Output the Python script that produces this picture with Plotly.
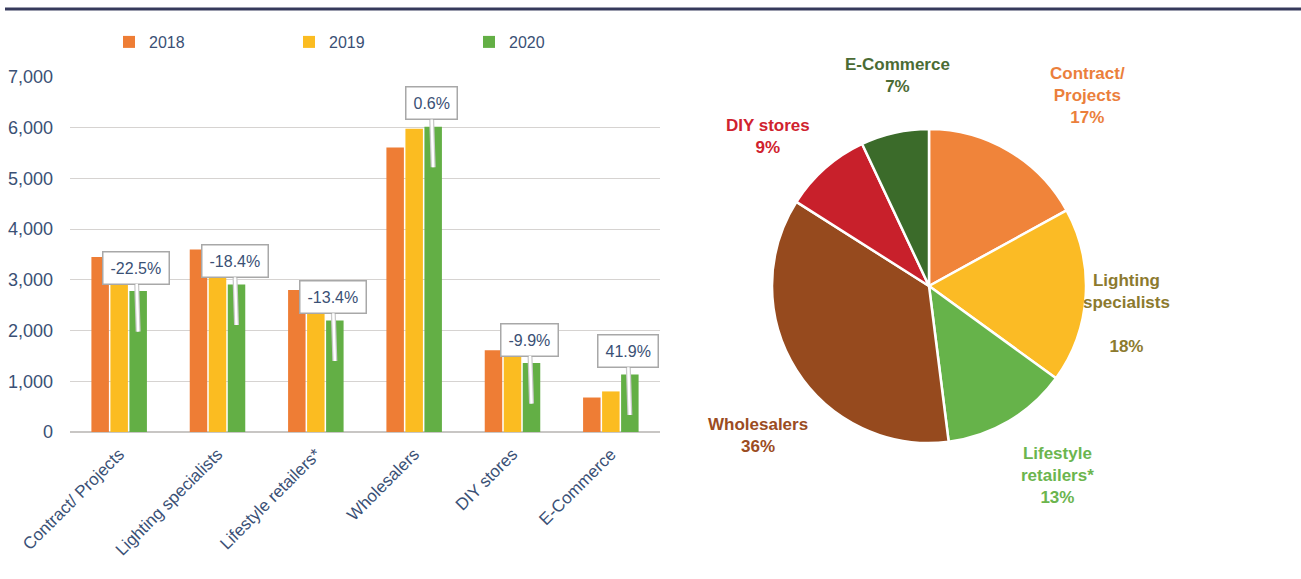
import plotly.graph_objects as go

# ---------------- data ----------------
categories = ["Contract/ Projects", "Lighting specialists", "Lifestyle retailers*",
              "Wholesalers", "DIY stores", "E-Commerce"]
years = ["2018", "2019", "2020"]
values_2018 = [3450, 3600, 2800, 5610, 1610, 680]
values_2019 = [3530, 3570, 2540, 5980, 1510, 800]
values_2020 = [2780, 2910, 2200, 6020, 1360, 1135]
growth_labels = ["-22.5%", "-18.4%", "-13.4%", "0.6%", "-9.9%", "41.9%"]

pie_labels = ["Contract/<br>Projects", "Lighting<br>specialists<br>", "Lifestyle<br>retailers*",
              "Wholesalers", "DIY stores", "E-Commerce"]
pie_values = [17, 18, 13, 36, 9, 7]

y_ticks = [0, 1000, 2000, 3000, 4000, 5000, 6000, 7000]

# ---------------- style ----------------
W, H = 1301, 579
bar_colors = ["#EE7D35", "#FBBC21", "#63AF45"]
pie_colors = ["#F0843A", "#FBBB25", "#66B34A", "#964A1E", "#C8202B", "#3B6B2A"]
pie_text_colors = ["#EB7F3C", "#8C7A2E", "#6BB54E", "#9B4C22", "#D0222E", "#4B6B34"]
# label centre positions (pixels) for pie labels
pie_label_pos = [(1087, 95), (1126, 313), (1057, 475), (758, 435), (768, 136), (897, 76)]
text_col = "#3A5075"
font_family = "Liberation Sans, Arial, sans-serif"

fig = go.Figure()

x_idx = list(range(len(categories)))
for yr, vals, col in zip(years, [values_2018, values_2019, values_2020], bar_colors):
    fig.add_trace(go.Bar(x=x_idx, y=vals, name=yr, marker=dict(color=col, line=dict(width=0)),
                         xaxis="x", yaxis="y"))

fig.add_trace(go.Pie(values=pie_values, labels=[l.replace("<br>", " ") for l in pie_labels],
                     marker=dict(colors=pie_colors, line=dict(color="white", width=2.5)),
                     sort=False, direction="clockwise", rotation=0,
                     textinfo="none", hoverinfo="label+percent", showlegend=False,
                     domain=dict(x=[(929 - 157) / W, (929 + 157) / W],
                                 y=[1 - (286 + 157) / H, 1 - (286 - 157) / H])))

bargap = 0.42
n_series = len(years)
slot = (1 - bargap) / n_series
annotations = []
for i, (v, lab) in enumerate(zip(values_2020, growth_labels)):
    tip_x = i + slot  # centre of the 2020 bar
    # grey outline of the callout pointer
    annotations.append(dict(
        x=tip_x, y=v - 800, xref="x", yref="y", text=" ", showarrow=True,
        ax=-2, ay=-64, arrowhead=0, arrowwidth=5, arrowcolor="#C9C9C9",
        font=dict(size=4)))
    # callout box with white pointer
    annotations.append(dict(
        x=tip_x, y=v - 800, xref="x", yref="y", text=lab, showarrow=True,
        ax=-2, ay=-64, arrowhead=0, arrowwidth=2.5, arrowcolor="white",
        bgcolor="white", bordercolor="#A8A8A8", borderwidth=1.5, borderpad=7,
        font=dict(family=font_family, size=16, color=text_col)))

for lab, val, col, (px, py) in zip(pie_labels, pie_values, pie_text_colors, pie_label_pos):
    annotations.append(dict(
        x=px / W, y=1 - py / H, xref="paper", yref="paper", showarrow=False,
        xanchor="center", yanchor="middle",
        text=f"<b>{lab}<br>{val}%</b>", align="center",
        font=dict(family=font_family, size=17, color=col)))

fig.update_layout(
    width=W, height=H,
    margin=dict(l=0, r=0, t=0, b=0, autoexpand=False),
    paper_bgcolor="white", plot_bgcolor="white",
    barmode="group", bargap=bargap, bargroupgap=0.08,
    font=dict(family=font_family, size=16, color=text_col),
    xaxis=dict(domain=[70 / W, 660 / W], tickmode="array", tickvals=x_idx, ticktext=categories,
               tickangle=-45, range=[-0.5, len(categories) - 0.5], showgrid=False,
               showline=False, zeroline=False, ticks="", automargin=False,
               ticklabelstandoff=8,
               tickfont=dict(size=17, color=text_col)),
    yaxis=dict(domain=[1 - 432 / H, 1 - 77 / H], range=[0, 7000], tickvals=y_ticks,
               tickformat=",d", showgrid=True, gridcolor="#D6D3D1", gridwidth=1,
               zeroline=True, zerolinecolor="#C8C6C4", zerolinewidth=1.5,
               showline=False, ticks="", ticklabelstandoff=16, automargin=False,
               tickfont=dict(size=18, color=text_col)),
    legend=dict(orientation="h", x=109 / W, y=1 - 42 / H, xanchor="left", yanchor="middle",
                entrywidth=135, entrywidthmode="pixels", traceorder="normal",
                font=dict(size=16, color=text_col), bgcolor="rgba(0,0,0,0)"),
    annotations=annotations,
    shapes=[dict(type="line", xref="paper", yref="paper", x0=5 / W, x1=1, y0=1 - 9 / H, y1=1 - 9 / H,
                 line=dict(color="#363A5C", width=3))],
)

fig.write_html("out.html")
